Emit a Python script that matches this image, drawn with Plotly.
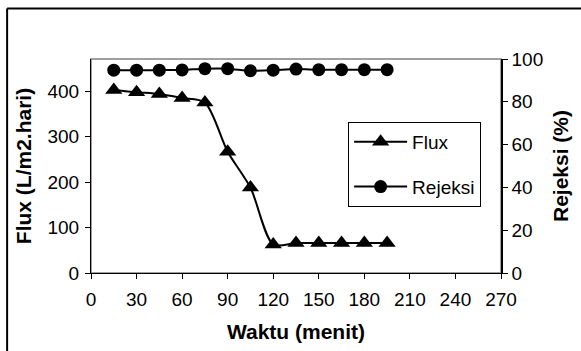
import plotly.graph_objects as go

waktu = [15, 30, 45, 60, 75, 90, 105, 120, 135, 150, 165, 180, 195]
flux = [403, 398, 394, 385, 375, 267, 188, 63, 66, 66, 66, 66, 66]
rejeksi = [94.8, 94.8, 94.8, 94.9, 95.5, 95.5, 94.5, 94.8, 95.3, 95.0, 95.0, 95.0, 95.0]

x_ticks = [0, 30, 60, 90, 120, 150, 180, 210, 240, 270]
y1_ticks = [0, 100, 200, 300, 400]
y2_ticks = [0, 20, 40, 60, 80, 100]

FONT = "Arial, Liberation Sans, sans-serif"
FS = 19
TFS = 21

fig = go.Figure()
fig.add_trace(go.Scatter(
    x=waktu, y=flux, name="Flux", mode="lines+markers",
    line=dict(color="black", width=2, shape="spline", smoothing=0.8),
    marker=dict(symbol="triangle-up", size=15, color="black"),
    legendgroup="a", yaxis="y"))
fig.add_trace(go.Scatter(
    x=waktu, y=rejeksi, name="Rejeksi", mode="lines+markers",
    line=dict(color="black", width=2, shape="spline", smoothing=0.8),
    marker=dict(symbol="circle", size=13, color="black"),
    legendgroup="b", yaxis="y2"))

L, R, T, B = 91, 77, 59, 78
W, H = 581, 351
pw = W - L - R
ph = H - T - B

def px_x(p):
    return (p - L) / pw

def px_y(p):
    return (H - B - p) / ph

fig.update_layout(
    width=W, height=H,
    margin=dict(l=L, r=R, t=T, b=B),
    paper_bgcolor="white", plot_bgcolor="white",
    font=dict(family=FONT, size=FS, color="black"),
    showlegend=True,
    legend=dict(
        x=px_x(350), y=px_y(122), xanchor="left", yanchor="top",
        bordercolor="black", borderwidth=1, bgcolor="white",
        font=dict(family=FONT, size=FS, color="black"),
        itemwidth=53, tracegroupgap=17,
    ),
    xaxis=dict(
        range=[0, 270], tickvals=x_ticks, ticktext=[str(v) for v in x_ticks],
        showgrid=False, zeroline=False, showline=True, linecolor="black", linewidth=1,
        ticks="outside", ticklen=5, tickcolor="black", ticklabelstandoff=4,
        title=dict(text="<b>Waktu (menit)</b>", font=dict(family=FONT, size=TFS), standoff=15),
    ),
    yaxis=dict(
        range=[0, 471], tickvals=y1_ticks,
        showgrid=False, zeroline=False, showline=True, linecolor="black", linewidth=1,
        ticks="outside", ticklen=5, tickcolor="black", ticklabelstandoff=2,
        title=dict(text="<b>Flux (L/m2.hari)</b>", font=dict(family=FONT, size=TFS), standoff=10),
    ),
    yaxis2=dict(
        range=[0, 100], tickvals=y2_ticks, overlaying="y", side="right",
        showgrid=False, zeroline=False, showline=True, linecolor="black", linewidth=1.5,
        ticks="outside", ticklen=5, tickcolor="black",
        title=dict(text="<b>Rejeksi (%)</b>", font=dict(family=FONT, size=TFS), standoff=11),
    ),
    shapes=[
        dict(type="rect", xref="paper", yref="paper", x0=0, x1=1, y0=0, y1=1,
             line=dict(color="#808080", width=1.5), layer="below"),
        dict(type="line", xref="paper", yref="paper", x0=px_x(6.5), x1=px_x(W + 5),
             y0=px_y(8.5), y1=px_y(8.5), line=dict(color="black", width=2)),
        dict(type="line", xref="paper", yref="paper", x0=px_x(6.5), x1=px_x(6.5),
             y0=px_y(8.5), y1=px_y(H + 5), line=dict(color="black", width=2)),
    ],
)

fig.write_html("out.html")
